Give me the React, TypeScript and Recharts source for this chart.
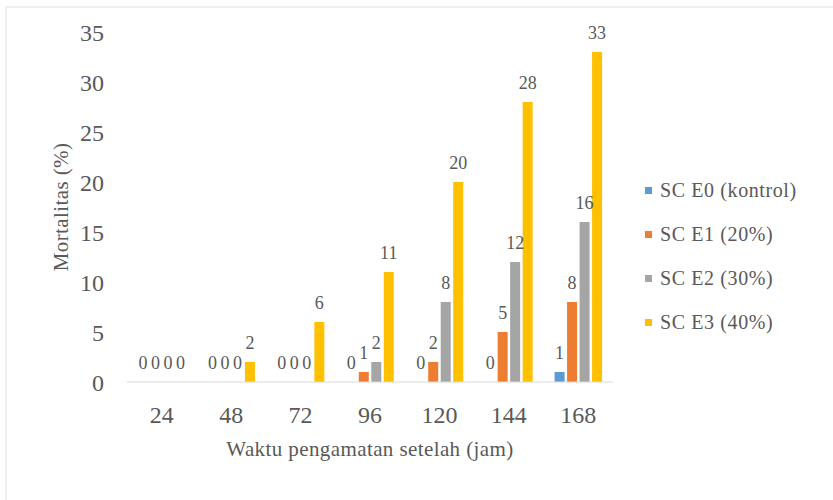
import React from 'react';
import { BarChart, Bar, XAxis, YAxis, Legend, LabelList, Label } from 'recharts';

const categories = ['24', '48', '72', '96', '120', '144', '168'];
const seriesNames = ['SC E0 (kontrol)', 'SC E1 (20%)', 'SC E2 (30%)', 'SC E3 (40%)'];
const e0 = [0, 0, 0, 0, 0, 0, 1];
const e1 = [0, 0, 0, 1, 2, 5, 8];
const e2 = [0, 0, 0, 2, 8, 12, 16];
const e3 = [0, 2, 6, 11, 20, 28, 33];
const yTicks = [0, 5, 10, 15, 20, 25, 30, 35];
const colors = ['#5B9BD5', '#ED7D31', '#A5A5A5', '#FFC000'];

const seriesValues = [e0, e1, e2, e3];
const keys = ['e0', 'e1', 'e2', 'e3'];

const data = categories.map((c, i) => {
  const row: Record<string, any> = { cat: c };
  keys.forEach((k, s) => {
    row[k] = seriesValues[s][i];
  });
  return row;
});

const FONT = '"Liberation Serif", "Times New Roman", serif';
const TEXT = '#595959';

const LegendContent = (props: any) => {
  const payload = props.payload || [];
  return (
    <div style={{ width: 180, fontFamily: FONT, color: TEXT }}>
      {payload.map((p: any, i: number) => (
        <div key={i} style={{ height: 44, display: 'flex', alignItems: 'center' }}>
          <div style={{ width: 7, height: 7, background: p.color, marginLeft: 5, marginRight: 8 }} />
          <span style={{ fontSize: 20, letterSpacing: 0.6, whiteSpace: 'nowrap' }}>{p.value}</span>
        </div>
      ))}
    </div>
  );
};

const YTitle = (props: any) => {
  const vb = props.viewBox || { x: 0, y: 32, width: 127, height: 350 };
  const cx = vb.x + 68;
  const cy = vb.y + vb.height / 2;
  return (
    <text
      transform={`translate(${cx},${cy}) rotate(-90)`}
      textAnchor="middle"
      fill={TEXT}
      fontSize={21}
      fontFamily={FONT}
      letterSpacing={0.4}
    >
      Mortalitas (%)
    </text>
  );
};

const BarValueLabel = (props: any) => {
  const { x, y, width, height, value } = props;
  if (x == null || y == null || value == null) return null;
  const top = Math.min(Number(y), Number(y) + Number(height || 0));
  return (
    <text
      x={Number(x) + Number(width) / 2}
      y={top - 13}
      textAnchor="middle"
      fill={TEXT}
      fontSize={18}
      fontFamily={FONT}
    >
      {String(value)}
    </text>
  );
};

export default function App() {
  return (
    <div style={{ position: 'absolute', left: 0, top: 0, width: 833, height: 500, background: '#fff' }}>
      <div
        style={{
          position: 'absolute',
          left: 5,
          top: 6,
          width: 828,
          height: 494,
          borderTop: '2px solid #EFEFEF',
          borderLeft: '2px solid #EFEFEF',
          boxSizing: 'border-box',
        }}
      />
      <div style={{ position: 'absolute', left: 0, top: 0 }}>
        <BarChart
          width={833}
          height={500}
          data={data}
          margin={{ top: 32, right: 40, bottom: 0, left: 0 }}
          barSize={10}
          barGap={2.5}
        >
          <XAxis
            dataKey="cat"
            height={118}
            axisLine={{ stroke: '#D9D9D9', strokeWidth: 1 }}
            tickLine={false}
            tickSize={0}
            tickMargin={24}
            tick={{ fill: TEXT, fontSize: 24, fontFamily: FONT }}
            interval={0}
          >
            <Label
              value="Waktu pengamatan setelah (jam)"
              position="insideBottom"
              offset={44}
              fill={TEXT}
              fontSize={21}
              fontFamily={FONT}
              style={{ letterSpacing: 0.4 }}
            />
          </XAxis>
          <YAxis
            width={127}
            domain={[0, 35]}
            ticks={yTicks}
            axisLine={false}
            tickLine={false}
            tickSize={0}
            tickMargin={23}
            tick={{ fill: TEXT, fontSize: 24, fontFamily: FONT }}
            interval={0}
          >
            <Label content={<YTitle />} />
          </YAxis>
          <Legend
            layout="vertical"
            align="right"
            verticalAlign="middle"
            content={<LegendContent />}
            wrapperStyle={{ position: 'absolute', left: 640, top: 168, width: 180 }}
          />
          {keys.map((k, s) => (
            <Bar
              key={k}
              dataKey={k}
              name={seriesNames[s]}
              fill={colors[s]}
              minPointSize={0.01}
              isAnimationActive={false}
            >
              <LabelList dataKey={k} content={<BarValueLabel />} />
            </Bar>
          ))}
        </BarChart>
      </div>
    </div>
  );
}
